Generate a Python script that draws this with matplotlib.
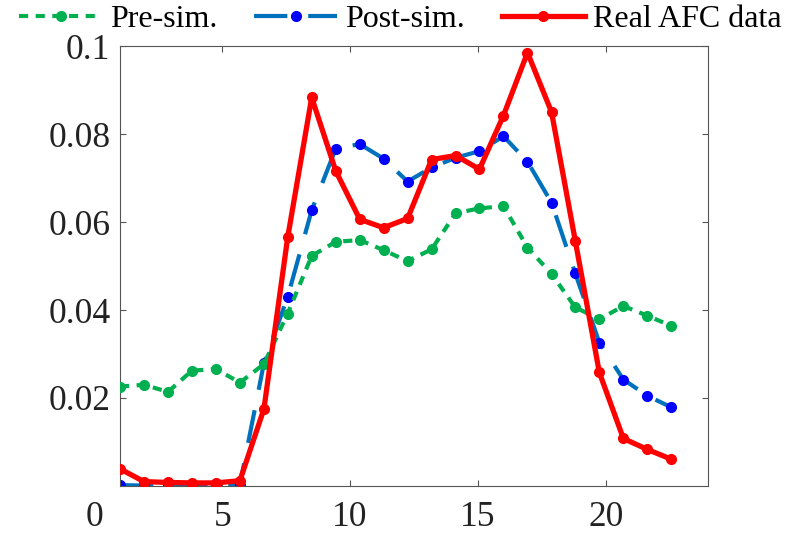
import matplotlib.pyplot as plt

# x positions of the 24 samples
x = [1.0, 1.94, 2.88, 3.81, 4.75, 5.69, 6.63, 7.56, 8.5, 9.44, 10.38, 11.31,
     12.25, 13.19, 14.13, 15.06, 16.0, 16.94, 17.88, 18.81, 19.75, 20.69, 21.63, 22.56]

pre_sim = [0.0226, 0.0230, 0.0214, 0.0262, 0.0266, 0.0235, 0.0277, 0.0392,
           0.0523, 0.0555, 0.0559, 0.0536, 0.0511, 0.0538, 0.0620, 0.0631,
           0.0636, 0.0542, 0.0482, 0.0406, 0.0379, 0.0409, 0.0387, 0.0364]

post_sim = [0.0002, 0.0001, 0.0001, 0.0001, 0.0003, 0.0003, 0.0279, 0.0430,
            0.0627, 0.0767, 0.0777, 0.0744, 0.0692, 0.0724, 0.0746, 0.0761,
            0.0795, 0.0737, 0.0644, 0.0483, 0.0326, 0.0242, 0.0205, 0.0179]

real_afc = [0.0039, 0.0010, 0.0008, 0.0007, 0.0007, 0.0012, 0.0175, 0.0565,
            0.0883, 0.0716, 0.0606, 0.0587, 0.0608, 0.0742, 0.0751, 0.0720,
            0.0842, 0.0985, 0.0850, 0.0557, 0.0258, 0.0108, 0.0083, 0.0061]

xticks = [5, 10, 15, 20]
yticks = [0.02, 0.04, 0.06, 0.08, 0.1]
ytick_labels = ['0.02', '0.04', '0.06', '0.08', '0.1']

plt.rcParams['font.family'] = ['Liberation Serif', 'DejaVu Serif']

fig = plt.figure(figsize=(7.93, 5.35), dpi=100)
ax = fig.add_axes([0.1513, 0.0916, 0.7415, 0.8224])

ax.plot(x, pre_sim, color='#00B050', lw=3, dashes=(2.2, 1.8), marker='o',
        ms=7, mfc='#00B050', mec='#00B050', label='Pre-sim.', zorder=3)
ax.plot(x, post_sim, color='#0072BD', lw=3, dashes=(8, 5), marker='o',
        ms=7, mfc='#0000FF', mec='#0000FF', label='Post-sim.', zorder=2)
ax.plot(x, real_afc, color='#FF0000', lw=3.8, marker='o',
        ms=7, mfc='#FF0000', mec='#FF0000', label='Real AFC data', zorder=4)

ax.set_xlim(1, 24)
ax.set_ylim(0, 0.1)
ax.set_xticks(xticks)
ax.set_yticks(yticks)
ax.set_yticklabels(ytick_labels)
ax.tick_params(direction='in', length=4, width=0.8, colors='#555555',
               labelcolor='#222222', labelsize=25.5, top=True, right=True)
ax.tick_params(axis='x', pad=11)
ax.tick_params(axis='y', pad=7)
for s in ax.spines.values():
    s.set_color('#555555')
    s.set_linewidth(0.8)

# the "0" label sits left of the axis start
ax.annotate('0', xy=(0, 0), xycoords=('data', 'axes fraction'),
            xytext=(0, -11), textcoords='offset points', ha='center', va='top',
            fontsize=25.5, color='#222222', annotation_clip=False)

fig.legend(loc='upper center', bbox_to_anchor=(0.505, 0.997), ncol=3,
           frameon=False, fontsize=23, handlelength=2.6, handletextpad=0.25,
           columnspacing=1.15, borderpad=0.1, borderaxespad=0)

fig.savefig('out.png', dpi=100)
